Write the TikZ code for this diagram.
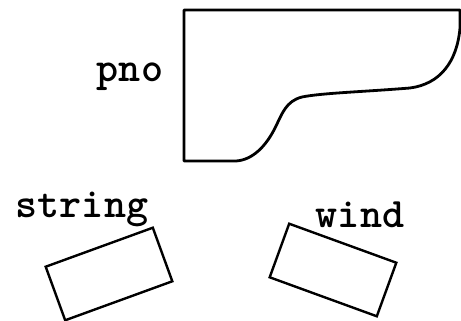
\documentclass[tikz,border=0pt]{standalone}
\usepackage{fontspec}
\begin{document}
\begin{tikzpicture}[x=1pt,y=-1pt,
  lbl/.style={font=\fontsize{42}{45}\selectfont\ttfamily\bfseries, inner sep=0pt, anchor=base},
  case/.style={draw, line width=2.4pt, minimum width=114pt, minimum height=57pt, inner sep=0pt},
  lid/.style={line width=2.8pt, line join=round, line cap=round}]
  \useasboundingbox (0,0) rectangle (461,321);

  % grand piano outline
  \draw[lid] (184,10) -- (460,10) -- (460,28)
    .. controls (457,62) and (440,84) .. (410,88)
    .. controls (360,92) and (322,93) .. (302,97)
    .. controls (286,101) and (282,114) .. (276,126)
    .. controls (266,147) and (252,160) .. (236,161)
    -- (184,161) -- cycle;
  \node[lbl] (pno) at (130,82) {pno};

  % string section
  \node[case, rotate=20] (stringbox) at (109,274) {};
  \node[lbl] (string) at (82,217) {string};

  % wind section
  \node[case, rotate=-20] (windbox) at (333,270) {};
  \node[lbl] (wind) at (360,227) {wind};
\end{tikzpicture}
\end{document}
